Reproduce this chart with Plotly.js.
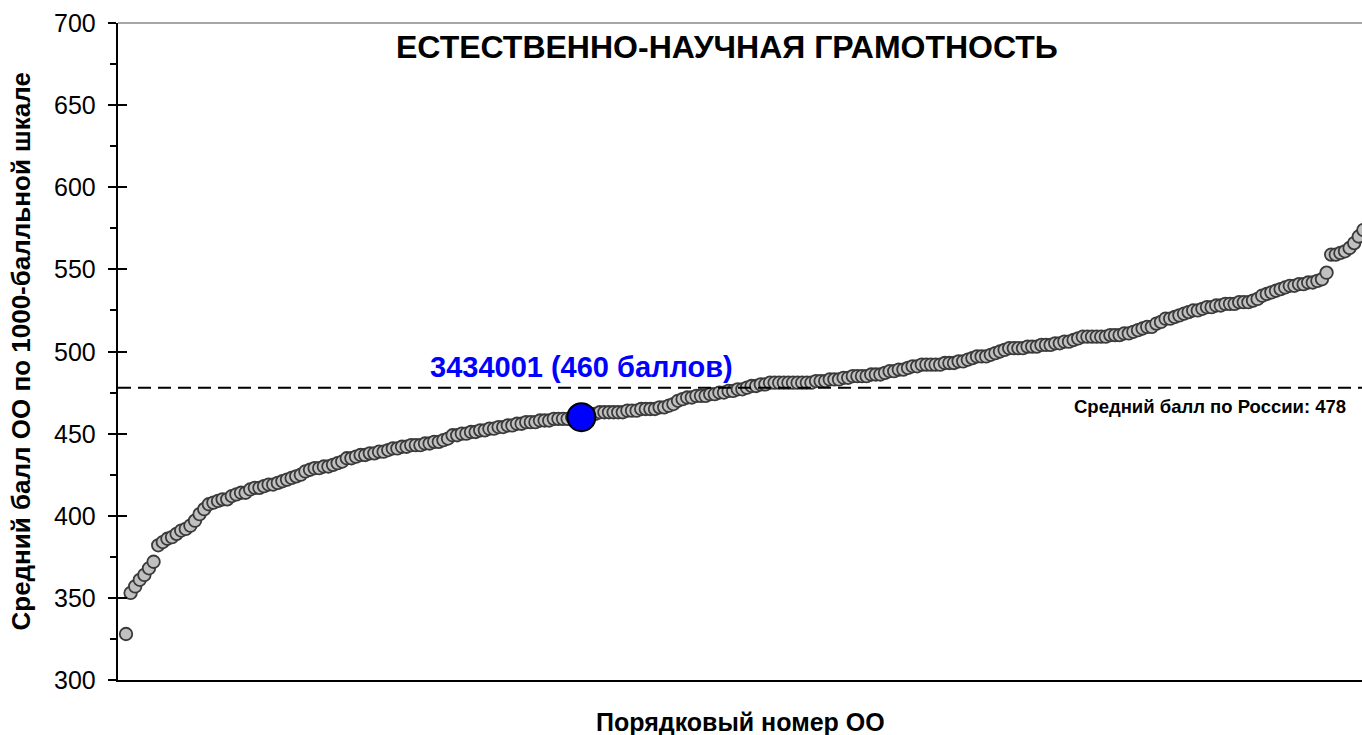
<!DOCTYPE html>
<html>
<head>
<meta charset="utf-8">
<script src="https://cdn.plot.ly/plotly-3.0.1.min.js"></script>
<style>html,body{margin:0;padding:0;background:#fff;}#chart{width:1362px;height:735px;}</style>
</head>
<body>
<div id="chart"></div>
<script>
// Scores of schools, sorted ascending
const scores = [
328,353,357,361,364,368,372,382,384,386,
387,389,391,392,394,397,401,404,407,408,
409,410,410,412,413,414,414,416,417,417,
418,419,419,420,421,422,423,424,425,427,
428,429,429,430,430,431,432,433,435,435,
436,437,437,438,438,439,439,440,441,441,
442,442,443,443,443,444,444,445,445,446,
447,449,449,450,450,451,451,452,452,453,
453,454,454,455,455,456,456,457,457,457,
458,458,458,459,459,459,459,460,460,460,
461,462,462,463,463,463,463,463,463,464,
464,464,465,465,465,465,466,466,467,468,
470,471,472,472,473,473,473,474,474,475,
475,476,476,477,477,478,479,479,480,480,
481,481,481,481,481,481,481,481,481,481,
482,482,482,483,483,483,484,484,485,485,
485,485,486,486,486,487,488,488,489,489,
490,491,491,492,492,492,492,492,493,493,
493,494,494,495,496,497,497,497,498,499,
500,501,502,502,502,502,503,503,503,504,
504,504,505,505,506,506,507,508,509,509,
509,509,509,509,510,510,510,511,511,512,
513,514,515,515,517,518,520,520,521,522,
523,524,525,525,526,527,527,528,528,529,
529,529,530,530,530,531,532,534,535,536,
537,538,539,540,540,541,541,542,542,543,
544,548,559,559,560,561,563,566,570,574
];
const ranks = scores.map((_, i) => i + 1);

const highlightIndex = 99;          // school 3434001
const highlightLabel = "3434001 (460 баллов)";
const russiaMean = 478;
const russiaLabel = "Средний балл по России: 478";
const chartTitle = "ЕСТЕСТВЕННО-НАУЧНАЯ ГРАМОТНОСТЬ";
const yTitle = "Средний балл ОО по 1000-балльной шкале";
const xTitle = "Порядковый номер ОО";
const yTicks = [300,350,400,450,500,550,600,650,700];

const FONT = "Arial, 'Liberation Sans', sans-serif";

const traces = [
  {
    x: ranks, y: scores, type: "scatter", mode: "markers",
    marker: {size: 12.5, color: "#c0c0c0", line: {color: "#3a3a3a", width: 1.8}},
    hoverinfo: "skip", showlegend: false
  },
  {
    x: [ranks[highlightIndex]], y: [scores[highlightIndex]], type: "scatter", mode: "markers",
    marker: {size: 28, color: "#0000ff", line: {color: "#000000", width: 2}},
    hoverinfo: "skip", showlegend: false
  },
  { // invisible trace on yaxis2 to carry inner tick marks
    x: [ranks[0]], y: [scores[0]], yaxis: "y2", type: "scatter", mode: "markers",
    marker: {opacity: 0}, hoverinfo: "skip", showlegend: false
  }
];

const tickLabelAnnotations = yTicks.map(v => ({
  text: String(v), xref: "paper", yref: "y", x: 0, xshift: -20.5, y: v,
  xanchor: "right", yanchor: "middle", showarrow: false,
  font: {size: 25, family: FONT, color: "#000"}
}));

const layout = {
  width: 1362, height: 735,
  margin: {l: 118, r: 0, t: 23, b: 55, pad: 0},
  paper_bgcolor: "#ffffff", plot_bgcolor: "#ffffff",
  font: {family: FONT, color: "#000"},
  xaxis: {
    range: [-0.74, 269.7], showgrid: false, zeroline: false,
    showticklabels: false, ticks: "",
    showline: true, linecolor: "#000", linewidth: 2
  },
  yaxis: {
    range: [300, 700], tickvals: yTicks, showticklabels: false,
    showgrid: false, zeroline: false,
    ticks: "outside", ticklen: 8, tickwidth: 2, tickcolor: "#000",
    minor: {dtick: 25, ticks: "outside", ticklen: 6, tickwidth: 2, tickcolor: "#000", showgrid: false},
    showline: true, linecolor: "#000", linewidth: 2
  },
  yaxis2: {
    overlaying: "y", side: "left", anchor: "x",
    range: [300, 700], tickvals: yTicks, showticklabels: false,
    showgrid: false, zeroline: false, showline: false,
    ticks: "inside", ticklen: 9, tickwidth: 2, tickcolor: "#000"
  },
  shapes: [
    {type: "line", xref: "paper", yref: "y", x0: 0, x1: 1, y0: russiaMean, y1: russiaMean,
     line: {color: "#000", width: 2, dash: "13px,7px"}},
    {type: "line", xref: "paper", yref: "paper", x0: 0, x1: 1, y0: 1, y1: 1,
     line: {color: "#888", width: 1.5}}
  ],
  annotations: tickLabelAnnotations.concat([
    {text: "<b>" + chartTitle + "</b>", xref: "paper", yref: "paper",
     x: 0.4895, y: 1, yshift: -24, xanchor: "center", yanchor: "middle", showarrow: false,
     font: {size: 32, family: FONT, color: "#000"}},
    {text: "<b>" + highlightLabel + "</b>", xref: "x", yref: "y",
     x: ranks[highlightIndex], y: 490.3, xanchor: "center", yanchor: "middle", showarrow: false,
     font: {size: 29, family: FONT, color: "#0000ff"}},
    {text: "<b>" + russiaLabel + "</b>", xref: "paper", yref: "y",
     x: 0.878, y: 466.5, xanchor: "center", yanchor: "middle", showarrow: false,
     font: {size: 18.5, family: FONT, color: "#000"}},
    {text: "<b>" + yTitle + "</b>", xref: "paper", yref: "paper",
     x: 0, xshift: -98, y: 0.5, xanchor: "center", yanchor: "middle", textangle: -90, showarrow: false,
     font: {size: 26, family: FONT, color: "#000"}},
    {text: "<b>" + xTitle + "</b>", xref: "paper", yref: "paper",
     x: 0.5, y: 0, yshift: -42, xanchor: "center", yanchor: "middle", showarrow: false,
     font: {size: 25, family: FONT, color: "#000"}}
  ])
};

Plotly.newPlot("chart", traces, layout, {staticPlot: true, displayModeBar: false});
</script>
</body>
</html>
